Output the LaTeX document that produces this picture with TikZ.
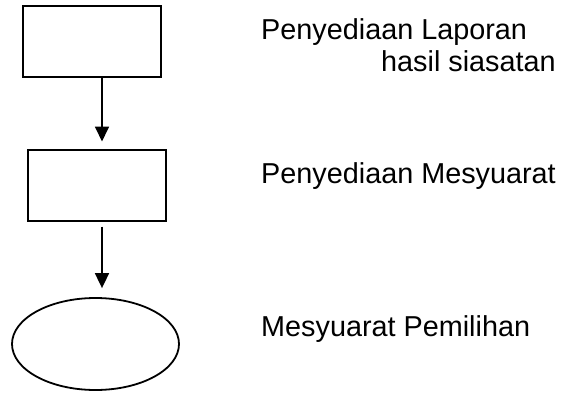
\documentclass[tikz,border=0pt]{standalone}
\usepackage{fontspec}
\setmainfont{Liberation Sans}
\usetikzlibrary{shapes.geometric,arrows.meta}
\begin{document}
\begin{tikzpicture}[x=1pt,y=-1pt,
  stepbox/.style={draw,line width=2pt,rectangle,minimum width=138pt,minimum height=71pt,inner sep=0pt},
  endbox/.style={draw,line width=1.8pt,ellipse,minimum width=167pt,minimum height=92pt,inner sep=0pt},
  flow/.style={line width=1.8pt,-{Triangle[width=14pt,length=15pt]}},
  lbl/.style={anchor=base west,inner sep=0pt,font=\fontsize{28.8pt}{32pt}\selectfont}]
\useasboundingbox (0,0) rectangle (564,393);
\node[stepbox] (b1) at (92,41.5) {};
\node[stepbox] (b2) at (97,185) {};
\node[endbox] (e) at (95.5,344) {};
\draw[flow,shorten >=7pt] ([xshift=10pt]b1.south) -- ([xshift=5pt]b2.north);
\draw[flow,shorten <=5pt,shorten >=9pt] ([xshift=5pt]b2.south) -- ([xshift=6.5pt]e.north);
\node[lbl] (t1) at (261,39.3) {Penyediaan Laporan};
\node[lbl] (t1b) at (381,71.8) {hasil siasatan};
\node[lbl] (t2) at (261,183.3) {Penyediaan Mesyuarat};
\node[lbl] (t3) at (261,336) {Mesyuarat Pemilihan};
\end{tikzpicture}
\end{document}
